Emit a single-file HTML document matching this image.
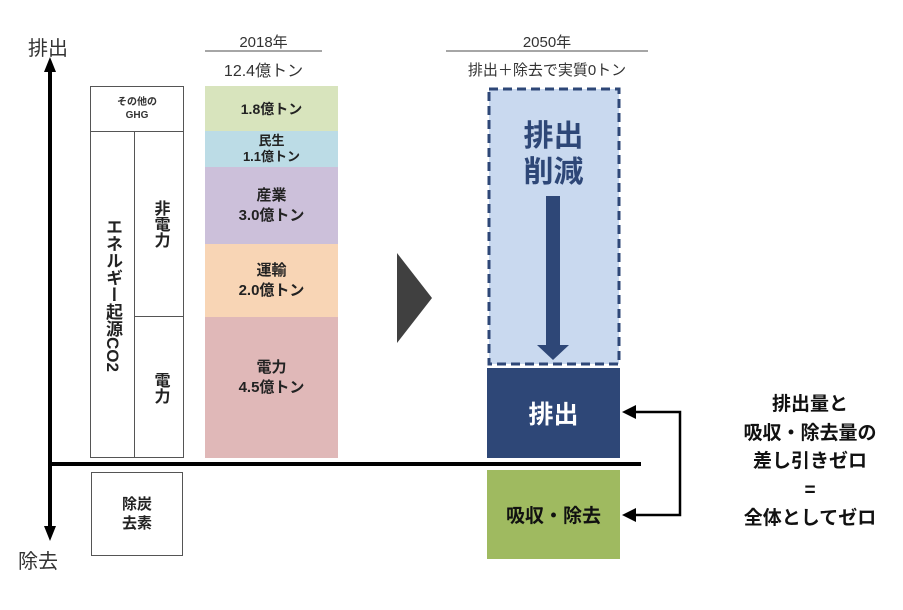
<!DOCTYPE html>
<html><head><meta charset="utf-8"><style>
body{margin:0;width:903px;height:610px;background:#fff;position:relative;overflow:hidden;font-family:"Liberation Sans","Noto Sans CJK JP",sans-serif;}
div{position:absolute;box-sizing:border-box;}
.c{display:flex;align-items:center;justify-content:center;text-align:center;flex-direction:column;}
.b{font-weight:bold;}
</style></head><body>
<svg width="903" height="610" style="position:absolute;left:0;top:0">
<line x1="50" y1="70" x2="50" y2="528" stroke="#000" stroke-width="4"/>
<polygon points="50,57 44,72 56,72" fill="#000"/>
<polygon points="50,541 44,526 56,526" fill="#000"/>
<line x1="50" y1="464" x2="641" y2="464" stroke="#000" stroke-width="4"/>
<line x1="205" y1="51" x2="322" y2="51" stroke="#888" stroke-width="1.5"/>
<line x1="446" y1="51" x2="648" y2="51" stroke="#888" stroke-width="1.5"/>
<polygon points="397,253 432,298 397,343" fill="#404040"/>
<rect x="489" y="89" width="130" height="275" fill="#c9d9ef" stroke="#2e4777" stroke-width="3" stroke-dasharray="9,5"/>
<rect x="546" y="196" width="14" height="150" fill="#2e4777"/>
<polygon points="537,345 569,345 553,360" fill="#2e4777"/>
<polyline points="634,412 680,412 680,515 634,515" fill="none" stroke="#000" stroke-width="2.5"/>
<polygon points="622,412 636,405 636,419" fill="#000"/>
<polygon points="622,515 636,508 636,522" fill="#000"/>
</svg>
<div style="left:28px;top:32px;font-size:20px;color:#333">排出</div>
<div style="left:18px;top:545px;font-size:20px;color:#333">除去</div>
<div class="c" style="left:205px;top:31px;width:117px;height:20px;font-size:15px;color:#333">2018年</div>
<div class="c" style="left:195px;top:58px;width:137px;height:22px;font-size:16px;color:#333">12.4億トン</div>
<div class="c" style="left:446px;top:31px;width:202px;height:20px;font-size:15px;color:#333">2050年</div>
<div class="c" style="left:436px;top:58px;width:222px;height:22px;font-size:15px;color:#333">排出＋除去で実質0トン</div>
<!-- left boxes -->
<div style="left:90px;top:86px;width:94px;height:372px;border:1px solid #555"></div>
<div class="c b" style="left:90px;top:86px;width:94px;height:46px;border-bottom:1px solid #555;font-size:10px;line-height:13px;color:#333">その他の<br>GHG</div>
<div style="left:134px;top:131px;width:1px;height:327px;background:#555"></div>
<div style="left:134px;top:316px;width:50px;height:1px;background:#555"></div>
<div class="c b" style="left:90px;top:131px;width:45px;height:327px;font-size:17px;color:#222;writing-mode:vertical-rl;">エネルギー起源CO2</div>
<div class="c b" style="left:135px;top:131px;width:49px;height:186px;font-size:16px;color:#222;writing-mode:vertical-rl;">非電力</div>
<div class="c b" style="left:135px;top:317px;width:49px;height:141px;font-size:16px;color:#222;writing-mode:vertical-rl;">電力</div>
<div class="c b" style="left:91px;top:472px;width:92px;height:84px;border:1px solid #555;font-size:15px;line-height:19px;color:#222">除炭<br>去素</div>
<!-- bars -->
<div class="c b" style="left:205px;top:86px;width:133px;height:45px;background:#d8e4bd;font-size:14px;color:#222">1.8億トン</div>
<div class="c b" style="left:205px;top:131px;width:133px;height:36px;background:#bcdce6;font-size:13px;line-height:16px;color:#222">民生<br>1.1億トン</div>
<div class="c b" style="left:205px;top:167px;width:133px;height:77px;background:#ccc0da;font-size:15px;line-height:20px;color:#222">産業<br>3.0億トン</div>
<div class="c b" style="left:205px;top:244px;width:133px;height:73px;background:#f8d5b5;font-size:15px;line-height:20px;color:#222">運輸<br>2.0億トン</div>
<div class="c b" style="left:205px;top:317px;width:133px;height:141px;background:#e0b8b8;font-size:15px;line-height:20px;color:#222;padding-bottom:20px">電力<br>4.5億トン</div>
<!-- 2050 -->
<div class="c b" style="left:487px;top:118px;width:133px;height:74px;font-size:30px;line-height:36px;color:#2e4777">排出<br>削減</div>
<div class="c b" style="left:487px;top:368px;width:133px;height:90px;background:#2e4777;color:#fff;font-size:25px">排出</div>
<div class="c b" style="left:487px;top:470px;width:133px;height:89px;background:#9fba60;color:#111;font-size:19px">吸収・除去</div>
<div class="c b" style="left:710px;top:390px;width:200px;height:145px;font-size:19px;line-height:28.5px;color:#111">排出量と<br>吸収・除去量の<br>差し引きゼロ<br>=<br>全体としてゼロ</div>
</body></html>
